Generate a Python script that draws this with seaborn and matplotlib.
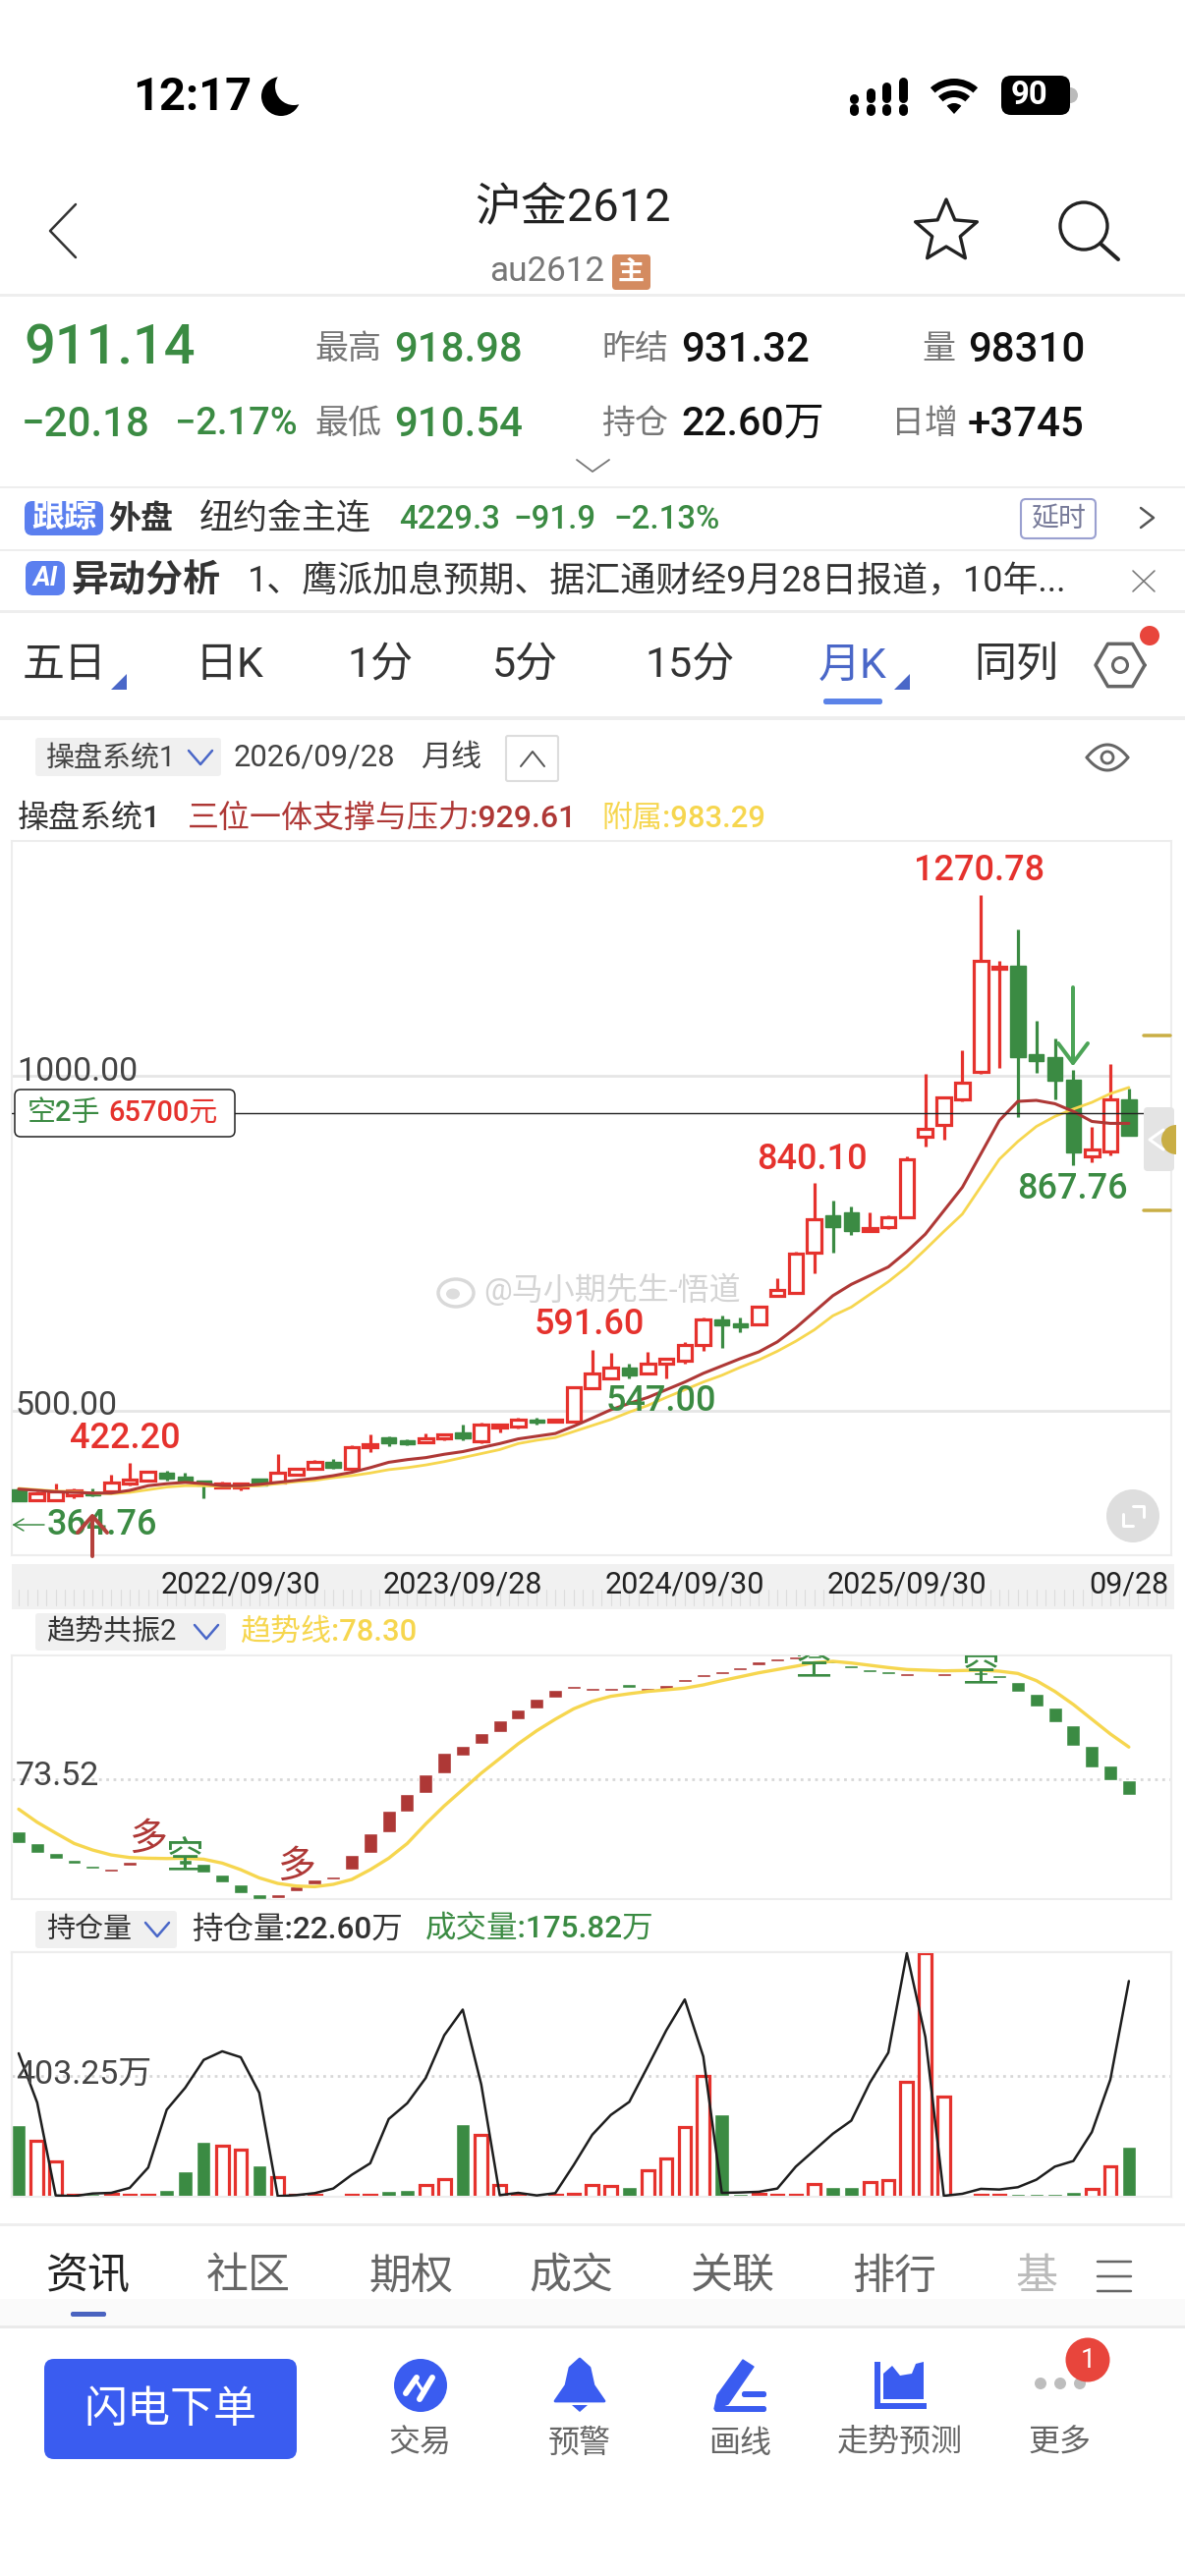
import numpy as np
import matplotlib
matplotlib.use("Agg")
import matplotlib.pyplot as plt
from matplotlib.patches import Circle, Ellipse, FancyBboxPatch, Polygon, Rectangle, Wedge
import seaborn as sns

# monthly candles, index 0 = 2021/09, index 60 = 2026/09
open_px = [382, 366, 367, 374, 378, 379, 391, 396, 408, 402, 395, 385, 385, 398, 393, 405, 414, 424, 414, 445, 460, 456, 453, 459, 468, 454, 475, 477, 487, 484, 484,
           534, 548, 565, 556, 570.5, 575, 599, 636.5, 630.5, 629, 672.5, 676, 736, 792, 796, 769, 775, 789, 910, 927, 965, 1006, 1160.5, 1165, 1032.5, 1028, 995, 880, 888, 965]
high_px = [384, 379, 391, 384, 384, 404, 422.2, 411, 410, 408, 396, 394, 393, 399, 435.5, 415, 426, 428, 448, 464, 462, 457, 466, 466, 479, 483, 480, 490, 489, 487, 537,
           591.6, 586, 571, 588, 580, 603, 640, 642, 640, 657.5, 698, 738, 840.1, 814, 805, 796, 792, 880, 1003, 970, 1039, 1270.78, 1172.5, 1220, 1083, 1056, 1010, 924.5, 1019, 981]
low_px = [364.76, 366, 366, 370, 372, 379, 389, 395, 395, 393, 370, 384, 381, 388, 393, 403, 413, 414, 411, 438, 447, 449, 451, 456, 456, 451, 468, 473, 479, 483, 482,
          532, 547, 549, 554, 548, 571, 589, 594, 618, 628, 672, 674, 706, 737, 763, 768, 771, 788, 895, 905, 963, 1004, 1012, 939, 1005, 965, 867.76, 872, 882, 911]
close_px = [365, 376, 379, 381.5, 374, 393, 396.5, 409, 399, 394, 389, 391, 391, 389, 408, 414, 424, 415, 445, 450, 451, 450.5, 459, 465, 459, 479, 479, 486.5, 483, 487, 535,
            555.5, 565, 553, 571, 578, 599, 636.5, 627, 624.5, 655, 680, 735.5, 786, 775, 768, 773, 789, 876, 921.5, 968, 991, 1173, 1163.5, 1028, 1023, 994, 885.5, 890.5, 965, 911.14]
support_line = [383, 381, 379, 378, 377, 377, 381, 388, 391, 393, 391, 388, 388, 390, 393, 396, 399, 403, 408, 415, 423, 427, 430, 435, 439, 445, 451, 458, 462, 466, 477,
                489, 501.5, 511, 520, 531.5, 543, 556, 567, 578, 588, 603, 624, 648, 672, 689, 702, 715, 738, 764, 799, 834, 884, 934, 962.5, 964, 959, 947.5, 932.5, 929.6, 929.61]
sub_line = [384, 382, 380, 379, 377, 376, 378, 382, 386, 388, 388, 387, 387, 388, 391, 394, 396, 400, 403, 407, 412, 415, 419, 424, 430, 436, 442, 451, 456, 460, 469,
            478, 487, 498, 508, 520, 531.5, 543, 553, 565, 576, 589, 604, 621, 642, 655, 674, 693, 715, 741, 768, 794, 835, 876, 902.5, 925, 940, 951, 961, 974, 983.29]
date_pos = [12, 24, 36, 48, 60]
date_labels = ["2022/09/30", "2023/09/28", "2024/09/30", "2025/09/30", "09/28"]

# trend panel
trend_top = [65.71, 64.00, 62.44, 61.47, 60.59, 60.20, 61.22, 62.05, 61.81, 61.47, 60.88, 59.27, 57.81, 56.34, 56.29, 57.56, 58.54, 59.03, 62.20, 65.47, 68.79, 71.37, 74.30, 77.42, 78.55, 80.35, 82.35, 83.91, 85.48, 86.84, 87.48,
             87.14, 87.14, 87.67, 87.09, 87.52, 88.45, 89.14, 89.62, 90.26, 91.04, 91.53, 91.87, 91.97, 91.23, 90.45, 89.87, 89.58, 89.38, 89.97, 89.38, 89.62, 89.52, 89.04, 87.96, 86.21, 84.16, 81.62, 78.45, 75.52, 73.28]
trend_bottom = [64.00, 62.44, 61.56, 60.83, 60.10, 59.66, 60.64, 61.81, 61.47, 60.73, 59.52, 58.05, 56.49, 55.61, 55.81, 56.83, 57.81, 58.59, 60.00, 62.44, 65.52, 68.64, 71.47, 74.35, 76.98, 78.74, 80.60, 82.45, 84.11, 85.62, 86.94,
                86.74, 86.74, 87.18, 86.70, 87.04, 88.06, 88.75, 89.23, 89.82, 90.55, 91.04, 91.43, 91.58, 90.84, 90.06, 89.43, 89.14, 88.94, 89.58, 88.94, 89.43, 89.04, 88.65, 86.60, 84.40, 82.06, 78.55, 75.23, 73.32, 71.13]
trend_dir = ["g", "g", "g", "g", "g", "r", "r", "r", "g", "g", "g", "g", "g", "g", "r", "r", "r", "r", "r", "r", "r", "r", "r", "r", "r", "r", "r", "r", "r", "r", "r",
             "r", "r", "g", "r", "r", "r", "r", "r", "r", "r", "r", "r", "g", "g", "g", "g", "g", "r", "g", "r", "r", "g", "g", "g", "g", "g", "g", "g", "g", "g"]
trend_line = [69.03, 67.08, 65.47, 63.91, 62.93, 62.20, 61.81, 61.71, 61.66, 61.71, 61.56, 60.98, 60.00, 58.78, 57.95, 57.56, 57.46, 57.81, 58.54, 60.00, 61.71, 63.91, 66.83, 69.52, 71.96, 74.40, 76.59, 78.79, 80.74, 82.45, 84.01,
              85.13, 85.87, 86.26, 86.60, 86.84, 87.09, 87.57, 88.21, 88.79, 89.38, 89.87, 90.36, 90.89, 91.09, 90.84, 90.50, 90.16, 89.87, 89.77, 89.67, 89.72, 89.77, 89.62, 89.28, 88.21, 86.60, 84.65, 82.45, 80.25, 78.30]
signal_pos = [7, 9, 15, 43, 52]
signal_val = [64.44, 61.66, 60.34, 90.5, 89.48]
signal_txt = ["多", "空", "多", "空", "空"]

# volume / open interest panel, both in 万
volume = [244.6, 195.9, 130.3, 20.3, 24.5, 24.5, 22.4, 22.4, 38.3, 98.6, 191.7, 179, 167.4, 117.6, 77.4, 21.3, 21.3, 22.4, 21.3, 21.3, 35.1, 38.3, 52, 73.2, 247.8, 215, 54.1, 22.4, 22.4, 22.4, 24.5,
          53.1, 51, 46.7, 101.8, 138.8, 238.2, 403.25, 279.5, 24.5, 24.5, 22.4, 22.4, 57.3, 47.8, 45.7, 63.7, 70, 386.4, 800, 338.7, 22.4, 22.4, 22.4, 23.5, 23.5, 23.5, 29.8, 40.4, 113.4, 175.82]
volume_dir = ["g", "r", "r", "r", "g", "r", "r", "r", "g", "g", "g", "r", "r", "g", "r", "r", "r", "g", "r", "r", "g", "g", "r", "r", "g", "r", "r", "r", "g", "r", "r",
              "r", "r", "g", "r", "r", "r", "r", "g", "g", "r", "r", "r", "r", "g", "g", "r", "r", "r", "r", "r", "g", "r", "r", "g", "g", "g", "g", "r", "r", "g"]
open_interest = [15.03, 9.87, 0.14, 0.07, 0.34, 0.41, 0.93, 3.06, 9.12, 11.42, 14.34, 15.24, 14.62, 10.9, 0.07, 0.17, 0.38, 0.86, 2.30, 3.51, 8.15, 9.80, 12.45, 16.92, 19.61, 11.76, 0.17, 0.41, 0.14, 0.38, 3.34,
                 6.50, 8.57, 9.94, 13.66, 17.44, 20.67, 14.69, 0.41, 0.45, 0.52, 0.86, 3.16, 4.88, 6.60, 7.98, 11.94, 15.10, 25.52, 16.75, 0.10, 0.31, 0.83, 0.76, 1.00, 1.79, 3.16, 3.75, 6.78, 12.28, 22.60]

RED = "#E5322D"
GREEN = "#3B8B43"
DRED = "#AE3836"
YEL = "#F6D64F"
BLUE = "#3A5CF0"
SEP = "#EEEEEE"
GRAY = "#777777"
W, H = 1206, 2622

sns.set_theme(style="white")
plt.rcParams["font.family"] = ["Roboto", "Noto Sans CJK SC", "DejaVu Sans"]
plt.rcParams["axes.unicode_minus"] = False

fig = plt.figure(figsize=(W / 100, H / 100), dpi=100, facecolor="white")


def px_axes(x0, y0, x1, y1, z=1):
    a = fig.add_axes([x0 / W, 1 - y1 / H, (x1 - x0) / W, (y1 - y0) / H], zorder=z)
    a.patch.set_alpha(0)
    return a


def overlay(z):
    a = px_axes(0, 0, W, H, z)
    a.set_xlim(0, W)
    a.set_ylim(H, 0)
    a.axis("off")
    return a


bg = overlay(0)
fg = overlay(10)


def t(x, y, s, px, color="#222222", ha="left", weight="normal", **kw):
    # +9: the y values below were read for a higher baseline
    fg.text(x, y + 9, s, fontsize=px * 0.72, color=color, ha=ha, va="center", fontweight=weight, **kw)


def line(xs, ys, color="#222222", lw=2, a=None, **kw):
    (a or fg).plot(xs, ys, color=color, lw=lw * 0.72, solid_capstyle="round", solid_joinstyle="round", zorder=4, **kw)


def rbox(x0, y0, x1, y1, fc, ec="none", r=6, lw=1.5, a=None, **kw):
    (a or fg).add_patch(FancyBboxPatch((x0 + r, y0 + r), x1 - x0 - 2 * r, y1 - y0 - 2 * r, boxstyle=f"round,pad={r}",
                                       fc=fc, ec=ec, lw=lw, **kw))


def sep(y, h=3, color=SEP):
    bg.add_patch(Rectangle((0, y), W, h, fc=color, ec="none"))


def hex_eye(cx, cy, r, color="#666666"):
    ang = np.radians(np.arange(0, 361, 60))
    line(cx + r * np.cos(ang), cy + r * np.sin(ang), color, 3.5)
    fg.add_patch(Circle((cx, cy), r * 0.3, fc="none", ec=color, lw=2.2))


xs = np.arange(len(close_px))
o, h_, l_, c = map(np.array, (open_px, high_px, low_px, close_px))
xlim = (-0.372, 62.29)

# ---- main candle panel
ax = px_axes(12, 856, 1192, 1583, 2)
is_up = c >= o
top, bot = np.maximum(o, c), np.minimum(o, c)
ax.axhline(1000, color="#E6E6E6", lw=2)
ax.axhline(500, color="#E6E6E6", lw=2)
ax.vlines(xs[is_up], l_[is_up], h_[is_up], color=RED, lw=2.3, zorder=2)
ax.vlines(xs[~is_up], l_[~is_up], h_[~is_up], color=GREEN, lw=2.3, zorder=2)
sns.barplot(x=xs[is_up], y=(top - bot)[is_up], bottom=bot[is_up], native_scale=True, color="white", edgecolor=RED,
            linewidth=2.3, saturation=1, width=0.78, errorbar=None, ax=ax, zorder=3)
sns.barplot(x=xs[~is_up], y=(top - bot)[~is_up], bottom=bot[~is_up], native_scale=True, color=GREEN, edgecolor=GREEN,
            linewidth=1, saturation=1, width=0.82, errorbar=None, ax=ax, zorder=3)
sns.lineplot(x=xs, y=sub_line, color=YEL, lw=2, errorbar=None, ax=ax, zorder=4)
sns.lineplot(x=xs, y=support_line, color=DRED, lw=2.2, errorbar=None, ax=ax, zorder=5)
ax.axhline(945, color="#222222", lw=1, zorder=6)
ax.set_xlim(*xlim)
ax.set_ylim(284.1, 1351.7)
ax.set_xticks(date_pos)
ax.set_xticklabels(date_labels, fontsize=22, color="#222222")
ax.tick_params(axis="x", length=0, pad=11)
ax.set_yticks([])
ax.set_xlabel("")
ax.set_ylabel("")
for s in ax.spines.values():
    s.set_color("#EDEDED")
    s.set_linewidth(1.5)

# ---- trend panel
ax2 = px_axes(12, 1685, 1192, 1933, 2)
tt, tb = np.array(trend_top), np.array(trend_bottom)
td = np.array(trend_dir)
for key, col in (("r", DRED), ("g", GREEN)):
    m = td == key
    sns.barplot(x=xs[m], y=(tt - tb)[m], bottom=tb[m], native_scale=True, color=col, saturation=1, width=0.74,
                errorbar=None, ax=ax2, zorder=3)
sns.lineplot(x=xs, y=trend_line, color=YEL, lw=2.4, errorbar=None, ax=ax2, zorder=4)
ax2.axhline(73.52, color="#D8D8D8", lw=2, ls=":", zorder=1)
for sx, sy, st in zip(signal_pos, signal_val, signal_txt):
    ax2.text(sx, sy, st, fontsize=28, color=DRED if st == "多" else GREEN, ha="center", va="center", zorder=5, clip_on=True)
ax2.set_xlim(*xlim)
ax2.set_ylim(55.61, 91.97)
ax2.set_xticks([])
ax2.set_yticks([])
ax2.set_xlabel("")
ax2.set_ylabel("")
for s in ax2.spines.values():
    s.set_color("#EDEDED")
    s.set_linewidth(1.5)

# ---- volume panel
ax3 = px_axes(12, 1987, 1192, 2236, 2)
v = np.array(volume)
vd = np.array(volume_dir)
m = vd == "g"
sns.barplot(x=xs[m], y=v[m], native_scale=True, color=GREEN, saturation=1, width=0.76, errorbar=None, ax=ax3, zorder=3)
sns.barplot(x=xs[~m], y=v[~m], native_scale=True, color="white", edgecolor=RED, linewidth=2.3, saturation=1, width=0.68,
            errorbar=None, ax=ax3, zorder=3)
ax3.axhline(403.25, color="#D8D8D8", lw=2, ls=":", zorder=1)
ax3.set_xlim(*xlim)
ax3.set_ylim(15, 803)
ax3.set_xticks([])
ax3.set_yticks([])
ax3.set_xlabel("")
ax3.set_ylabel("")
ax3b = ax3.twinx()
sns.lineplot(x=xs, y=open_interest, color="#1E1E1E", lw=1.8, errorbar=None, ax=ax3b, zorder=6)
ax3b.set_ylim(0, 25.63)
ax3b.set_yticks([])
ax3b.set_ylabel("")
ax3.set_xlim(*xlim)
for a_ in (ax3, ax3b):
    for s in a_.spines.values():
        s.set_color("#EDEDED")
        s.set_linewidth(1.5)

# ---- status bar
t(135, 90, "12:17", 47, "#000000", weight="bold")
fg.add_patch(Circle((286, 98), 20, fc="black", ec="none"))
fg.add_patch(Circle((299, 88), 19, fc="white", ec="none"))
for i, ytop in enumerate([97, 90, 84, 79]):
    bx = 869 + i * 16.5
    line([bx, bx], [ytop + 4, 100], "black", 9)
    line([bx, bx], [110, 113], "black", 9)
for r_o, r_w in ((36, 9), (24, 9)):
    fg.add_patch(Wedge((971, 116), r_o, 228, 312, width=r_w - 2, fc="black", ec="none"))
fg.add_patch(Wedge((971, 116), 11, 228, 312, fc="black", ec="none"))
rbox(1019, 77, 1089, 117, "black", r=10)
fg.add_patch(Wedge((1089, 97), 8, 270, 90, fc="#BBBBBB", ec="none"))
t(1048, 88, "90", 33, "white", ha="center", weight="bold")

# ---- nav
line([77, 51, 77], [208, 235, 262], "#333333", 2.5)
t(583, 203, "沪金2612", 47, "#222222", ha="center")
t(498, 268, "au2612", 35, GRAY)
rbox(623, 259, 662, 295, "#D48B60", r=4)
t(642.5, 268, "主", 27, "white", ha="center", weight="bold")
ang = np.radians(np.arange(-90, 270, 36))
rad = np.tile([33, 15], 5)
fg.add_patch(Polygon(np.c_[963 + rad * np.cos(ang), 236 + rad * np.sin(ang)], closed=True, fc="white", ec="#222222", lw=2.4, joinstyle="round"))
fg.add_patch(Circle((1103, 230), 24, fc="none", ec="#222222", lw=2.4))
line([1120, 1138], [248, 264], "#222222", 4)
sep(299, 3)

# ---- quote block
t(24, 346, "911.14", 56, GREEN, weight="medium")
t(320, 347, "最高", 34, GRAY)
t(401, 347, "918.98", 42, GREEN, weight="medium")
t(612, 347, "昨结", 34, GRAY)
t(693, 347, "931.32", 42, "#111111", weight="medium")
t(938, 347, "量", 34, GRAY)
t(985, 347, "98310", 42, "#111111", weight="medium")
t(22, 423, "−20.18", 42, GREEN, weight="medium")
t(178, 423, "−2.17%", 38, GREEN, weight="medium")
t(320, 423, "最低", 34, GRAY)
t(401, 423, "910.54", 42, GREEN, weight="medium")
t(612, 423, "持仓", 34, GRAY)
t(693, 423, "22.60万", 41, "#111111", weight="medium")
t(907, 423, "日增", 34, GRAY)
t(985, 423, "+3745", 42, "#111111", weight="medium")
line([587, 603, 620], [468, 480, 468], "#777777", 1.8)
sep(495, 2)

# ---- outer market row
rbox(25, 510, 105, 545, "#5B7FEF", r=8)
t(65, 518, "跟踪", 33, "white", ha="center", weight="bold")
t(110, 520, "外盘", 33, "#333333", weight="bold", style="italic")
t(203, 520, "纽约金主连", 35, "#333333")
t(406, 520, "4229.3", 33, GREEN, weight="medium")
t(522, 520, "−91.9", 33, GREEN, weight="medium")
t(624, 520, "−2.13%", 33, GREEN, weight="medium")
rbox(1039, 508, 1115, 548, "white", ec="#9AA0D0", r=5)
t(1077, 519, "延时", 28, "#777A99", ha="center")
line([1161, 1174, 1161], [517, 527, 537], "#555555", 2.5)
sep(559, 2)

# ---- AI row
rbox(26, 571, 66, 606, "#5B7FEF", r=8)
t(46, 579, "AI", 27, "white", ha="center", weight="bold", style="italic")
t(72, 583, "异动分析", 38, "#333333", weight="bold")
t(252, 583, "1、鹰派加息预期、据汇通财经9月28日报道，10年...", 36, "#333333")
line([1153, 1175], [581, 602], "#777777", 1.6)
line([1153, 1175], [602, 581], "#777777", 1.6)
sep(621, 3)

# ---- period tabs
for tx, label in zip([23, 198, 353, 501, 656, 991], ["五日", "日K", "1分", "5分", "15分", "同列"]):
    t(tx, 669, label, 43, "#333333")
t(833, 669, "月K", 43, "#4A67C8")
for tx in (121, 918):
    fg.add_patch(Polygon([[tx - 8, 702], [tx + 8, 702], [tx + 8, 686]], closed=True, fc="#4A67C8", ec="none"))
rbox(838, 711, 898, 717, "#5B83E8", r=2.5)
hex_eye(1140, 677, 25)
fg.add_patch(Circle((1170, 647), 10, fc="#E8453C", ec="none"))
sep(729, 4)

# ---- main chart header
rbox(36, 751, 225, 790, "#F0F0F0", r=3)
t(47, 762, "操盘系统1", 29, "#444444")
line([192, 204, 216], [764, 778, 764], "#4A67C8", 2.5)
t(238, 762, "2026/09/28", 31, "#444444")
t(428, 762, "月线", 31, "#444444")
rbox(515, 749, 568, 795, "white", ec="#DDDDDD", r=2)
line([530, 542, 554], [780, 765, 780], "#555555", 2)
# eye toggle
eye_t = np.linspace(-1, 1, 30)
line(1127 + 21 * eye_t, 771 - 13 * (1 - eye_t ** 2), "#666666", 3)
line(1127 + 21 * eye_t, 771 + 13 * (1 - eye_t ** 2), "#666666", 3)
fg.add_patch(Circle((1127, 771), 6, fc="none", ec="#666666", lw=2))
t(18, 824, "操盘系统1", 32, "#333333", weight="medium")
t(191, 824, "三位一体支撑与压力:929.61", 32, DRED, weight="medium")
t(612, 824, "附属:983.29", 31, YEL, weight="medium")

# ---- main chart annotations
t(17, 1082, "1000.00", 34, "#444444")
t(16, 1422, "500.00", 34, "#444444")
rbox(15, 1109, 239, 1157, "white", ec="#222222", r=6, lw=1.1)
t(28, 1124, "空2手", 29, GREEN, weight="medium")
t(110, 1124, "65700元", 29, RED, weight="medium")
t(127, 1456, "422.20", 36, RED, ha="center", weight="medium")
t(600, 1339, "591.60", 36, RED, ha="center", weight="medium")
t(673, 1417, "547.00", 36, GREEN, ha="center", weight="medium")
t(826, 1171, "840.10", 36, RED, ha="center", weight="medium")
t(997, 877, "1270.78", 36, RED, ha="center", weight="medium")
t(1091, 1201, "867.76", 36, GREEN, ha="center", weight="medium")
t(48, 1543, "364.76", 36, GREEN, weight="medium")
line([14, 45], [1552, 1552], GREEN, 1.5)
line([14, 24], [1552, 1546], GREEN, 1.5)
line([14, 24], [1552, 1558], GREEN, 1.5)
line([94, 94], [1544, 1584], "#B5413C", 4)
line([79, 94, 109], [1560, 1543, 1560], "#B5413C", 4)
line([1092, 1092], [1005, 1082], "#4CA457", 4)
line([1077, 1092, 1107], [1062, 1082, 1062], "#4CA457", 4)
line([1164, 1191], [1054, 1054], "#C9AE45", 3.5)
line([1164, 1191], [1232, 1232], "#C9AE45", 3.5)
rbox(1164, 1127, 1195, 1192, "#E4E4E4", r=4)
fg.add_patch(Wedge((1197, 1160), 15, 90, 270, fc="#C9AE45", ec="none"))
line([1184, 1170, 1184], [1150, 1160, 1170], "white", 3)
fg.add_patch(Circle((1153, 1543), 27, fc="#DEDEDE", ec="none"))
line([1143, 1143, 1153], [1541, 1553, 1553], "white", 3)
line([1153, 1164, 1164], [1533, 1533, 1544], "white", 3)
fg.add_patch(Ellipse((464, 1316), 36, 28, fc="none", ec="#D9D9D9", lw=2.5))
fg.add_patch(Ellipse((461, 1317), 14, 11, fc="#DDDDDD", ec="none"))
t(492, 1303, "@马小期先生-悟道", 32, "#D4D4D4")

# ---- date strip
bg.add_patch(Rectangle((12, 1592), 1183, 46, fc="#F1F1F1", ec="none"))
for i in np.arange(0, 62.5, 0.5):
    bg.plot([19 + 18.83 * i] * 2, [1618, 1634], color="#DDDDDD", lw=0.8)

# ---- trend header
rbox(36, 1642, 230, 1680, "#F0F0F0", r=3)
t(47, 1652, "趋势共振2", 29, "#333333")
line([198, 210, 222], [1654, 1668, 1654], "#4A67C8", 2.5)
t(244, 1652, "趋势线:78.30", 31, YEL, weight="medium")
t(16, 1799, "73.52", 34, "#444444")

# ---- volume header
rbox(36, 1945, 180, 1983, "#F0F0F0", r=3)
t(47, 1955, "持仓量", 29, "#333333")
line([148, 160, 172], [1957, 1971, 1957], "#4A67C8", 2.5)
t(195, 1955, "持仓量:22.60万", 31.5, "#333333", weight="medium")
t(433, 1955, "成交量:175.82万", 31.5, GREEN, weight="medium")
t(16, 2103, "403.25万", 34, "#444444")

# ---- news tabs
sep(2263, 3)
t(47, 2309, "资讯", 43, "#222222", weight="medium")
for tx, label in zip([210, 375, 538, 703, 867], ["社区", "期权", "成交", "关联", "排行"]):
    t(tx, 2309, label, 43, "#666666")
t(1033, 2309, "基", 43, "#BBBBBB")
for ly in (2302, 2317, 2332):
    line([1117, 1151], [ly, ly], "#666666", 2.5)
rbox(72, 2353, 108, 2358, "#4A63C0", r=2)
bg.add_patch(Rectangle((0, 2340), W, 28, fc="#FAFAFA", ec="none"))
sep(2367, 3, "#EAEAEA")

# ---- bottom bar
rbox(45, 2401, 302, 2503, BLUE, r=10)
t(173, 2444, "闪电下单", 44, "white", ha="center")
fg.add_patch(Circle((428, 2428), 27, fc=BLUE, ec="none"))
line([413, 424], [2436, 2420], "white", 6)
line([427, 440], [2442, 2420], "white", 6)
line([424, 432], [2424, 2436], "white", 3)
fg.add_patch(Polygon([[590, 2401], [600, 2410], [604, 2428], [615, 2444], [565, 2444], [576, 2428], [580, 2410]], closed=True, fc=BLUE, ec=BLUE, lw=2, joinstyle="round"))
fg.add_patch(Polygon([[582, 2448], [598, 2448], [590, 2455]], closed=True, fc=BLUE, ec="none"))
fg.add_patch(Polygon([[756, 2402], [767, 2409], [741, 2447], [727, 2452], [730, 2438]], closed=True, fc=BLUE, ec=BLUE, lw=1, joinstyle="round"))
rbox(755, 2434, 780, 2440, BLUE, r=2.5)
rbox(727, 2449, 780, 2455, BLUE, r=2.5)
fg.add_patch(Rectangle((890, 2404), 6, 48, fc=BLUE, ec="none"))
fg.add_patch(Rectangle((890, 2446), 53, 6, fc=BLUE, ec="none"))
fg.add_patch(Polygon([[899, 2442], [899, 2416], [908, 2408], [916, 2418], [928, 2416], [932, 2406], [940, 2404], [940, 2442]], closed=True, fc=BLUE, ec="none"))
for dx in (1059, 1079, 1099):
    fg.add_patch(Circle((dx, 2426), 6, fc="#BDBDBD", ec="none"))
fg.add_patch(Circle((1107, 2402), 22.5, fc="#E8453C", ec="none"))
t(1107, 2393, "1", 27, "white", ha="center")
for tx, label in zip([428, 590, 753, 916, 1079], ["交易", "预警", "画线", "走势预测", "更多"]):
    t(tx, 2478, label, 32, "#666666", ha="center")

fig.savefig("out.png", dpi=100)
